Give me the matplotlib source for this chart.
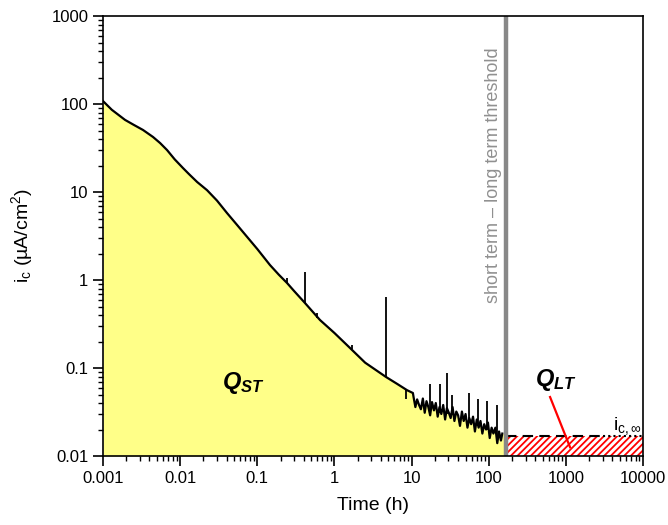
import matplotlib.pyplot as plt
import numpy as np
from matplotlib.ticker import FixedLocator, LogLocator, NullFormatter

plt.rcParams['font.family'] = ['Liberation Sans', 'DejaVu Sans']
plt.rcParams['mathtext.fontset'] = 'custom'
plt.rcParams['mathtext.rm'] = 'Liberation Sans'
plt.rcParams['mathtext.it'] = 'Liberation Sans:italic'
plt.rcParams['mathtext.bf'] = 'Liberation Sans:bold'
plt.rcParams['mathtext.bfit'] = 'Liberation Sans:italic:bold'
plt.rcParams['hatch.linewidth'] = 1.3

# smooth decay (h, uA/cm2)
t_smooth = [0.001, 0.0013, 0.00193, 0.0025, 0.0033, 0.00445, 0.0055, 0.00676, 0.0085,
            0.0109, 0.013, 0.0166, 0.0223, 0.03, 0.0405, 0.055, 0.0759, 0.1, 0.146,
            0.19, 0.243, 0.3, 0.415, 0.65, 1.0, 1.59, 2.5, 4.67, 6.5, 8.73, 10.4]
i_smooth = [108, 86, 66, 58, 50.7, 42.2, 36, 30, 23.5,
            18.7, 16, 13, 10.5, 8, 5.77, 4.2, 3.0, 2.25, 1.48,
            1.15, 0.925, 0.75, 0.548, 0.351, 0.25, 0.169, 0.115, 0.079, 0.066, 0.056, 0.052]

# noisy tail after the step near 10 h
t_noisy = [10.6, 11.2, 11.8, 12.5, 13.2, 14.0, 14.8, 15.6, 16.5, 17.4, 18.4, 19.5,
           20.6, 21.8, 23.0, 24.3, 25.7, 27.2, 28.7, 30.4, 32.1, 34.0, 35.9, 38.0,
           40.1, 42.4, 44.9, 47.4, 50.1, 53.0, 56.0, 59.2, 62.6, 66.2, 70.0, 74.0,
           78.2, 82.7, 87.4, 92.4, 97.7, 103, 109, 115, 122, 129, 136, 144, 150]
i_noisy = [0.047, 0.036, 0.044, 0.038, 0.034, 0.045, 0.031, 0.042, 0.036, 0.029, 0.041, 0.033,
           0.040, 0.028, 0.036, 0.030, 0.038, 0.026, 0.035, 0.031, 0.027, 0.036, 0.025, 0.032,
           0.029, 0.022, 0.032, 0.025, 0.030, 0.021, 0.027, 0.023, 0.028, 0.019, 0.026, 0.021,
           0.025, 0.018, 0.023, 0.020, 0.024, 0.016, 0.021, 0.018, 0.021, 0.014, 0.019, 0.015, 0.018]

# spikes: time, low, high
spike_t = [0.24, 0.42, 0.59, 1.69, 4.6, 8.5, 17.3, 23.4, 28.8, 33.5, 55.6, 72.6, 95, 128]
spike_lo = [0.93, 0.55, 0.37, 0.165, 0.08, 0.045, 0.034, 0.031, 0.030, 0.029, 0.025, 0.022, 0.020, 0.017]
spike_hi = [1.05, 1.23, 0.42, 0.185, 0.64, 0.058, 0.066, 0.066, 0.087, 0.050, 0.052, 0.045, 0.042, 0.038]

t_threshold = 168
i_inf = 0.017

t_all = t_smooth + t_noisy
i_all = i_smooth + i_noisy

fig = plt.figure(figsize=(6.68, 5.25), dpi=100)
ax = fig.add_axes([0.1542, 0.1314, 0.8084, 0.8381])

ax.fill_between(t_all + [t_threshold], i_all + [i_all[-1]], 0.01,
                color='#FFFF88', linewidth=0, zorder=1)
ax.plot(t_all, i_all, color='black', lw=1.6, zorder=3)
ax.vlines(spike_t, spike_lo, spike_hi, color='black', lw=1.3, zorder=3)

# long term region
ax.fill_between([t_threshold, 10000], [i_inf, i_inf], 0.01, facecolor='white',
                edgecolor='red', hatch='/////', linewidth=0, zorder=2)
ax.plot([t_threshold, 3000], [i_inf, i_inf], color='black', lw=1.5, ls=(0, (5, 3)), zorder=3)
ax.plot([3000, 10000], [i_inf, i_inf], color='black', lw=1.5, ls=(0, (1, 1.5)), zorder=3)
ax.axvline(t_threshold, color='#888888', lw=3.2, zorder=4)
ax.plot([624, 1132], [0.0468, 0.0126], color='red', lw=1.6, zorder=5)

ax.text(t_threshold / 1.13, 15.6, 'short term \u2013 long term threshold', rotation=90,
        ha='right', va='center', color='#909090', fontsize=13)
ax.text(0.0349, 0.0676, r'$\mathbfit{Q}_{\mathbfit{ST}}$', fontsize=17, va='center')
ax.text(398, 0.073, r'$\mathbfit{Q}_{\mathbfit{LT}}$', fontsize=17, va='center')
ax.text(4085, 0.0195, r'$\mathregular{i_{c,\infty}}$', fontsize=14, va='baseline')

ax.set_xscale('log')
ax.set_yscale('log')
ax.set_xlim(0.001, 10000)
ax.set_ylim(0.01, 1000)

xt = [0.001, 0.01, 0.1, 1, 10, 100, 1000, 10000]
yt = [0.01, 0.1, 1, 10, 100, 1000]
ax.xaxis.set_major_locator(FixedLocator(xt))
ax.yaxis.set_major_locator(FixedLocator(yt))
ax.set_xticklabels(['%g' % v for v in xt])
ax.set_yticklabels(['%g' % v for v in yt])
ax.xaxis.set_minor_locator(LogLocator(base=10, subs=np.arange(2, 10), numticks=20))
ax.yaxis.set_minor_locator(LogLocator(base=10, subs=np.arange(2, 10), numticks=20))
ax.xaxis.set_minor_formatter(NullFormatter())
ax.yaxis.set_minor_formatter(NullFormatter())
ax.tick_params(which='major', direction='out', length=7, width=1.2, labelsize=12)
ax.tick_params(which='minor', direction='out', length=3.5, width=1)
for s in ax.spines.values():
    s.set_linewidth(1.2)
    s.set_zorder(6)

ax.set_xlabel('Time (h)', fontsize=14, labelpad=8)
ax.set_ylabel('i$_\\mathregular{c}$ (µA/cm$^\\mathregular{2}$)', fontsize=14, labelpad=12)

fig.savefig('out.png', dpi=100)
